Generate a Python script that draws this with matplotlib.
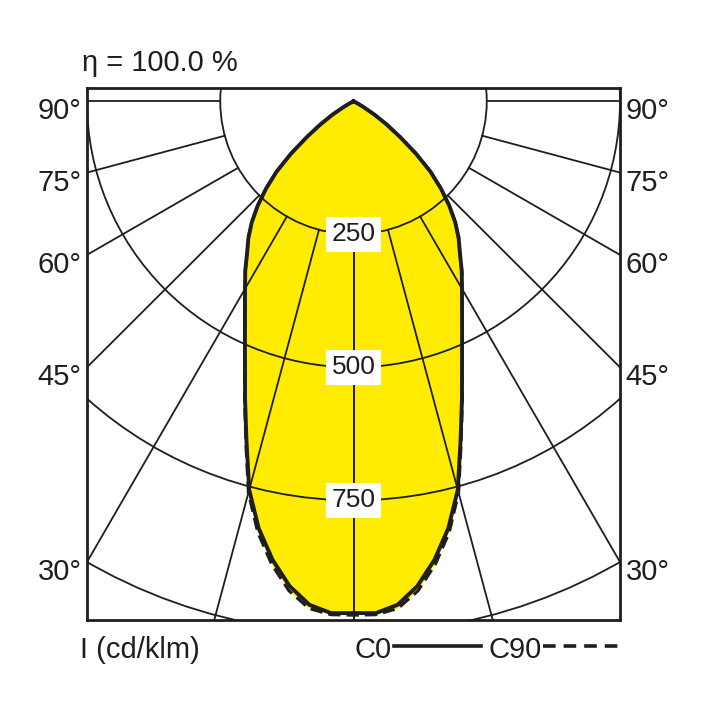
import numpy as np
import matplotlib.pyplot as plt
from matplotlib.patches import Circle
from matplotlib.lines import Line2D

plt.rcParams['font.family'] = ['Liberation Sans', 'DejaVu Sans']

# luminous intensity (cd/klm) against angle from nadir
angles = [0, 2.5, 5, 7.5, 10, 12.5, 15, 17.5, 20, 22.5, 25, 27.5, 30, 32.5, 35,
          37.5, 40, 42.5, 45, 47.5, 50, 52.5, 55, 57.5, 60, 62.5, 65, 70, 80, 90]
c0 = [962, 963, 950, 919, 875, 822, 756, 668, 595, 532, 482, 441, 407, 378, 348,
      324, 297, 266, 232, 196, 153, 110, 76, 47, 22, 8, 0, 0, 0, 0]
c90 = [966, 966, 957, 928, 884, 830, 762, 672, 597, 533, 483, 441, 407, 378, 348,
       324, 297, 266, 232, 196, 153, 110, 76, 47, 22, 8, 0, 0, 0, 0]

rings = [250, 500, 750, 1000]
ring_labels = [250, 500, 750]
spokes = [0, 15, 30, 45, 60, 75, 90]
side_labels = [90, 75, 60, 45, 30]
eta = "η = 100.0 %"
unit = "I (cd/klm)"

yellow = '#ffec00'
ink = '#1e1e1e'


def curve(vals):
    th = np.radians(np.array(angles, dtype=float))
    v = np.array(vals, dtype=float)
    # mirror to the other half plane
    th_full = np.concatenate([-th[::-1], th[1:]])
    v_full = np.concatenate([v[::-1], v[1:]])
    return v_full * np.sin(th_full), -v_full * np.cos(th_full)


fig = plt.figure(figsize=(7.08, 7.08), dpi=100)
ax = fig.add_axes([87 / 708, 88 / 708, 533 / 708, 532 / 708])
ax.set_xlim(-500, 500)
ax.set_ylim(-975, 25)
ax.set_xticks([])
ax.set_yticks([])
for s in ax.spines.values():
    s.set_linewidth(2.0)
    s.set_color(ink)
    s.set_zorder(6)

x0, y0 = curve(c0)
x90, y90 = curve(c90)
ax.fill(x90, y90, color=yellow, lw=0, zorder=1)
ax.fill(x0, y0, color=yellow, lw=0, zorder=1)

# grid: rings and spokes
for r in rings:
    ax.add_patch(Circle((0, 0), r, fill=False, lw=1.3, ec=ink, zorder=2))
for a in spokes:
    t = np.radians(a)
    for sg in (-1, 1):
        ax.plot([sg * 250 * np.sin(t), sg * 3000 * np.sin(t)],
                [-250 * np.cos(t), -3000 * np.cos(t)],
                color=ink, lw=1.3, zorder=2)

for r in ring_labels:
    ax.text(0, -r, str(r), ha='center', va='center', fontsize=19, color=ink,
            zorder=3, bbox=dict(facecolor='white', edgecolor='none', pad=4))

ax.plot(x0, y0, color=ink, lw=2.8, zorder=4, solid_joinstyle='round')
ax.plot(x90, y90, color=ink, lw=2.2, ls=(0, (4, 2)), zorder=4)

# angle labels on both sides
for a in side_labels:
    t = np.radians(a)
    yy = -500 * np.cos(t) / np.sin(t)
    for sg, ha, dx in ((-1, 'right', -4), (1, 'left', 4)):
        ax.annotate(f"{a}°", (sg * 500, yy), xytext=(dx, -5),
                    textcoords='offset points', ha=ha, va='center_baseline',
                    fontsize=21, color=ink, annotation_clip=False)

fig.text(82 / 708, 1 - 71 / 708, eta, ha='left', va='baseline', fontsize=21, color=ink)
fig.text(80 / 708, 1 - 658 / 708, unit, ha='left', va='baseline', fontsize=21, color=ink)
fig.text(355 / 708, 1 - 658 / 708, "C0", ha='left', va='baseline', fontsize=21, color=ink)
fig.text(488 / 708, 1 - 658 / 708, "C90", ha='left', va='baseline', fontsize=21, color=ink)
fig.add_artist(Line2D([394 / 708, 481 / 708], [1 - 646 / 708, 1 - 646 / 708],
                      color=ink, lw=2.6))
fig.add_artist(Line2D([543 / 708, 618 / 708], [1 - 646 / 708, 1 - 646 / 708],
                      color=ink, lw=2.6, ls=(0, (3.5, 2.2))))

fig.savefig('out.png', dpi=100, facecolor='white')
